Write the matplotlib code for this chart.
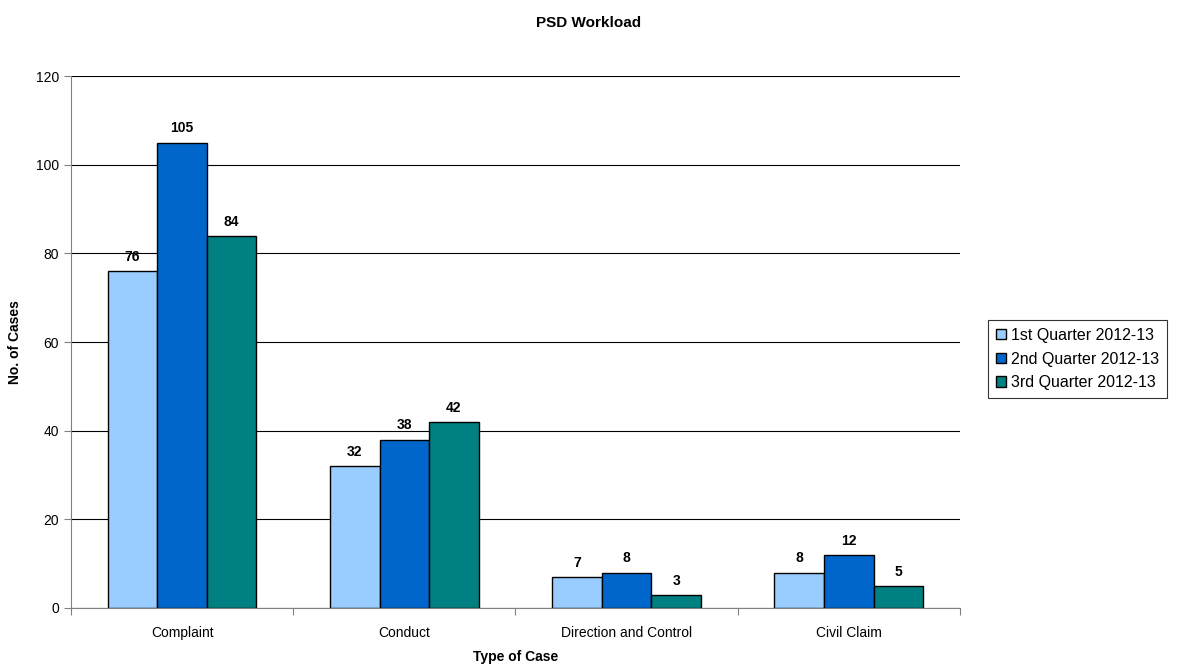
import numpy as np
import matplotlib
matplotlib.use('Agg')
import matplotlib.pyplot as plt

plt.rcParams['font.family'] = ['Liberation Sans', 'DejaVu Sans']

categories = ['Complaint', 'Conduct', 'Direction and Control', 'Civil Claim']
series_names = ['1st Quarter 2012-13', '2nd Quarter 2012-13', '3rd Quarter 2012-13']
q1 = [76, 32, 7, 8]
q2 = [105, 38, 8, 12]
q3 = [84, 42, 3, 5]
colors = ['#99CCFF', '#0066CC', '#008080']

fig = plt.figure(figsize=(11.77, 6.71), dpi=100)
ax = fig.add_axes([0.0603, 0.0939, 0.7553, 0.7928])

x = np.arange(len(categories))
w = 0.223
for i, (vals, name, c) in enumerate(zip([q1, q2, q3], series_names, colors)):
    pos = x + (i - 1) * w
    ax.bar(pos, vals, w, color=c, edgecolor='black', linewidth=1, label=name, zorder=3)
    for p, v in zip(pos, vals):
        ax.text(p, v + 1.6, str(v), ha='center', va='bottom', fontsize=10, fontweight='bold')

ax.set_xlim(-0.5, len(categories) - 0.5)
ax.set_ylim(0, 120)
ax.set_yticks(range(0, 121, 20))
ax.yaxis.grid(True, color='black', linewidth=0.8, zorder=0)
ax.set_xticks(np.arange(-0.5, len(categories), 1.0))
ax.set_xticklabels([])
ax.set_xticks(x, minor=True)
ax.set_xticklabels(categories, minor=True)
ax.tick_params(axis='x', which='minor', length=0, pad=13, labelsize=10)
ax.tick_params(axis='x', which='major', direction='out', length=5, color='#808080')
ax.tick_params(axis='y', direction='out', length=5, color='#808080', labelsize=10)
for s in ['top', 'right']:
    ax.spines[s].set_visible(False)
ax.spines['left'].set_color('#808080')
ax.spines['bottom'].set_color('#808080')

ax.set_xlabel('Type of Case', fontsize=10, fontweight='bold', labelpad=7)
ax.set_ylabel('No. of Cases', fontsize=10, fontweight='bold', labelpad=10)
fig.text(0.5, 0.965, 'PSD Workload', ha='center', va='center', fontsize=11, fontweight='bold')

leg = fig.legend(loc='center left', bbox_to_anchor=(988 / 1177, 1 - 359 / 671), frameon=True, fancybox=False,
                 edgecolor='black', fontsize=11.5, handlelength=0.65, handleheight=0.65,
                 handletextpad=0.3, borderpad=0.5, labelspacing=0.55, borderaxespad=0)
leg.get_frame().set_linewidth(0.8)

fig.savefig('out.png', dpi=100)
